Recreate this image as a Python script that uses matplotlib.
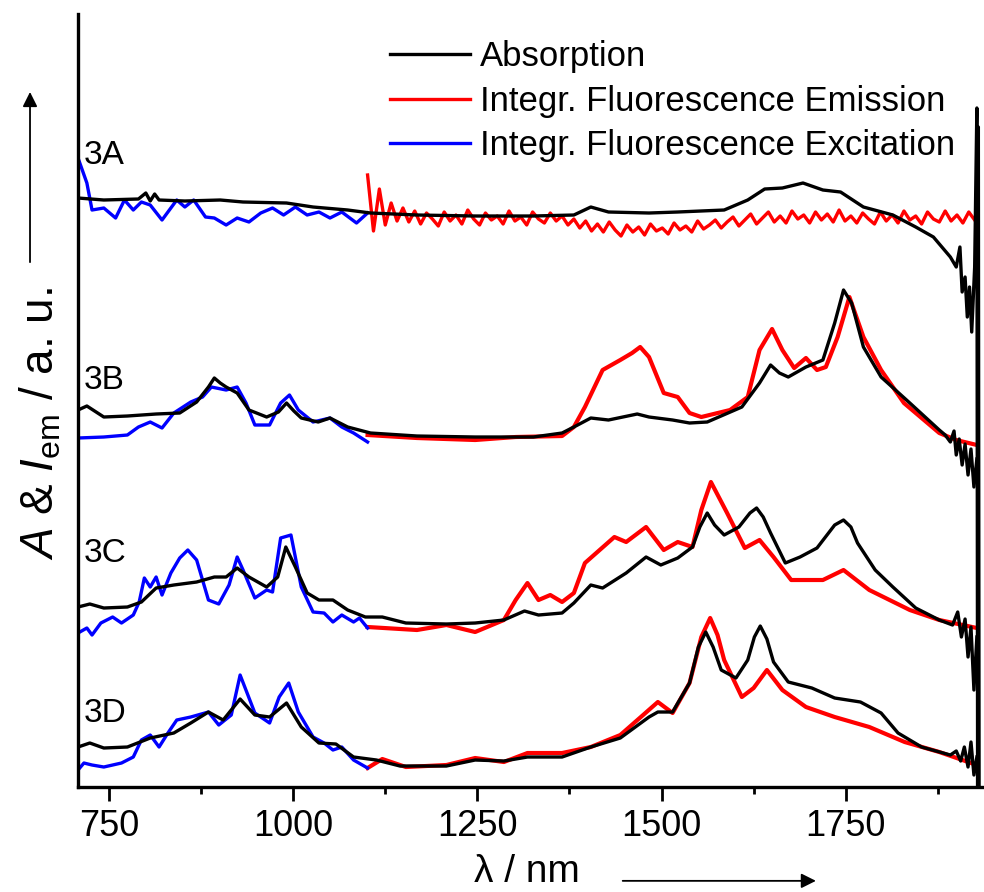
import matplotlib
matplotlib.use('Agg')
import matplotlib.pyplot as plt
from matplotlib.patches import FancyArrowPatch

plt.rcParams['font.family'] = ['Liberation Sans', 'DejaVu Sans']
plt.rcParams['mathtext.fontset'] = 'custom'
plt.rcParams['mathtext.rm'] = 'Liberation Sans'
plt.rcParams['mathtext.it'] = 'Liberation Sans:italic'

# ---- data (wavelength in nm, stacked intensity in a.u.) ----
# 3A
wl_abs_3a = [708, 743, 790, 800, 806, 812, 818, 853, 901, 932, 991, 1027, 1074, 1105, 1168, 1247,
             1326, 1381, 1404, 1428, 1483, 1522, 1585, 1617, 1640, 1664, 1692, 1719, 1743, 1774,
             1814, 1845, 1869, 1892, 1900, 1905, 1908, 1912, 1915, 1918, 1921, 1925, 1928, 1929,
             1930, 1931]
a_3a = [589, 587, 588, 594, 586, 593, 587, 586, 587, 585, 584, 580, 577, 574, 572, 571,
        571, 572, 580, 575, 574, 575, 577, 587, 598, 599, 604, 597, 595, 580,
        572, 560, 550, 530, 520, 540, 495, 510, 470, 500, 455, 520, 679, 0,
        660, 2]
wl_em_3a = list(range(1101, 1930, 8))
e_3a = [612, 556, 598, 562, 584, 566, 579, 565, 576, 563,
        574, 568, 561, 575, 566, 572, 563, 577, 568, 562,
        574, 567, 571, 563, 576, 566, 570, 562, 575, 568,
        564, 574, 566, 571, 562, 568, 559, 566, 556, 563,
        555, 565, 557, 551, 562, 555, 560, 552, 563, 556,
        559, 553, 564, 557, 561, 555, 566, 558, 562, 567,
        559, 565, 570, 561, 567, 573, 563, 569, 575, 565,
        571, 564, 576, 568, 572, 564, 575, 567, 573, 565,
        577, 566, 571, 564, 574, 568, 563, 575, 566, 572,
        564, 576, 567, 571, 563, 575, 568, 565, 576, 566,
        572, 564, 575, 567]
wl_ex_3a = [708, 720, 727, 743, 759, 771, 783, 794, 806, 822, 842, 853, 865, 881, 893, 909, 924,
            940, 956, 972, 987, 1003, 1019, 1035, 1050, 1066, 1086, 1101]
x_3a = [629, 604, 577, 579, 569, 587, 577, 585, 582, 567, 587, 580, 587, 570, 569, 562, 569,
        565, 574, 579, 572, 580, 572, 575, 569, 575, 564, 574]

# 3B
wl_abs_3b = [708, 720, 743, 775, 814, 846, 869, 885, 893, 901, 909, 924, 940, 964, 980, 991,
             1001, 1011, 1034, 1050, 1074, 1105, 1168, 1247, 1326, 1365, 1381, 1404, 1428, 1467,
             1483, 1515, 1538, 1562, 1609, 1633, 1648, 1660, 1672, 1696, 1719, 1735, 1747, 1758,
             1774, 1798, 1837, 1877, 1885, 1892, 1897, 1900, 1904, 1908, 1912, 1916, 1920, 1924,
             1928]
a_3b = [377, 381, 370, 371, 373, 374, 385, 400, 409, 404, 400, 394, 377, 370, 375, 384,
        376, 369, 365, 369, 360, 354, 351, 350, 350, 354, 360, 369, 367, 373,
        370, 367, 364, 365, 380, 404, 422, 414, 410, 420, 427, 464, 497, 484,
        440, 410, 384, 357, 352, 345, 356, 332, 348, 322, 343, 312, 338, 300,
        328]
wl_em_3b = [1101, 1168, 1247, 1302, 1365, 1381, 1396, 1420, 1444, 1460, 1471, 1483, 1503, 1522,
            1538, 1554, 1593, 1617, 1633, 1650, 1664, 1680, 1696, 1711, 1723, 1739, 1755, 1774,
            1798, 1829, 1877, 1900, 1928]
e_3b = [352, 349, 347, 350, 351, 360, 380, 417, 427, 434, 440, 430, 394, 390,
        374, 370, 377, 390, 437, 458, 437, 419, 429, 417, 420, 450, 490, 450,
        417, 384, 354, 347, 342]
wl_ex_3b = [708, 743, 775, 790, 806, 822, 838, 861, 877, 889, 909, 924, 936, 948, 968, 983, 995,
            1007, 1027, 1050, 1066, 1082, 1101]
x_3b = [349, 350, 352, 360, 365, 359, 374, 385, 390, 400, 397, 400, 384, 362, 362, 384, 392,
        377, 365, 369, 360, 354, 345]

# 3C
wl_abs_3c = [708, 724, 743, 775, 794, 814, 838, 869, 893, 909, 924, 940, 964, 979, 990, 1003,
             1019, 1035, 1054, 1074, 1098, 1121, 1153, 1208, 1247, 1286, 1314, 1333, 1365, 1381,
             1404, 1420, 1452, 1479, 1499, 1522, 1542, 1552, 1562, 1572, 1585, 1605, 1620, 1629,
             1638, 1648, 1668, 1688, 1711, 1735, 1747, 1757, 1766, 1790, 1814, 1845, 1877, 1895,
             1902, 1907, 1912, 1916, 1920, 1924, 1928]
a_3c = [180, 183, 179, 180, 185, 199, 202, 205, 210, 210, 219, 210, 200, 210, 240, 220,
        194, 187, 187, 177, 170, 170, 164, 163, 164, 167, 176, 172, 174, 184,
        202, 199, 214, 230, 222, 229, 240, 260, 274, 262, 252, 260, 274, 279,
        270, 254, 224, 230, 239, 262, 267, 260, 244, 217, 200, 179, 167, 162,
        175, 150, 168, 130, 160, 97, 150]
wl_em_3c = [1101, 1168, 1208, 1247, 1286, 1302, 1318, 1333, 1349, 1365, 1381, 1396, 1436, 1452,
            1479, 1503, 1522, 1542, 1554, 1567, 1589, 1613, 1633, 1652, 1676, 1719, 1747, 1782,
            1837, 1877, 1928]
e_3c = [160, 157, 162, 155, 167, 187, 204, 187, 192, 185, 194, 224, 250, 245,
        260, 237, 245, 240, 277, 305, 274, 239, 247, 230, 207, 207, 217, 197,
        177, 167, 159]
wl_ex_3c = [708, 720, 727, 739, 755, 767, 783, 791, 798, 806, 814, 822, 834, 846, 857, 869, 885,
            899, 913, 924, 932, 948, 964, 972, 983, 997, 1011, 1027, 1042, 1054, 1066, 1082,
            1090, 1101]
x_3c = [154, 159, 152, 164, 170, 164, 172, 185, 209, 200, 210, 192, 214, 229, 237, 227, 187,
        183, 202, 230, 217, 189, 197, 195, 249, 252, 200, 175, 174, 165, 172, 165,
        169, 159]

# 3D
wl_abs_3d = [708, 724, 743, 775, 806, 838, 861, 885, 905, 928, 948, 968, 991, 1011, 1035, 1058,
             1082, 1113, 1145, 1208, 1247, 1286, 1318, 1365, 1404, 1444, 1483, 1495, 1515, 1538,
             1550, 1560, 1570, 1581, 1601, 1617, 1626, 1634, 1643, 1652, 1672, 1704, 1735, 1770,
             1798, 1821, 1853, 1892, 1900, 1906, 1911, 1916, 1920, 1924, 1928]
a_3d = [40, 44, 39, 40, 49, 54, 64, 75, 67, 88, 72, 70, 84, 60, 44, 43,
        30, 27, 21, 21, 27, 26, 30, 30, 40, 49, 70, 75, 75, 104,
        140, 155, 140, 117, 109, 127, 150, 161, 148, 125, 105, 99, 89, 85,
        74, 54, 40, 32, 36, 26, 40, 20, 45, 12, 30]
wl_em_3d = [1101, 1121, 1153, 1208, 1247, 1286, 1318, 1365, 1404, 1444, 1475, 1495, 1515, 1538,
            1554, 1566, 1576, 1585, 1609, 1625, 1643, 1664, 1696, 1735, 1782, 1830, 1877, 1928]
e_3d = [19, 28, 20, 22, 29, 25, 34, 34, 40, 52, 72, 85, 74, 104,
        150, 169, 152, 127, 90, 99, 117, 97, 80, 70, 60, 45, 35, 22]
wl_ex_3d = [708, 716, 727, 743, 767, 783, 794, 806, 818, 830, 842, 861, 885, 899, 916, 928, 948,
            968, 981, 994, 1007, 1027, 1042, 1054, 1066, 1082, 1101]
x_3d = [17, 24, 22, 20, 24, 30, 47, 52, 40, 54, 67, 70, 75, 62, 72, 112, 74,
        64, 90, 104, 75, 50, 44, 37, 40, 27, 19]

samples = ['3A', '3B', '3C', '3D']
label_y = [632, 407, 234, 74]

fig = plt.figure(figsize=(9.84, 8.92), dpi=100)
ax = fig.add_axes([0.0793, 0.1177, 0.9187, 0.8666])

lw = 2.4
ax.plot(wl_abs_3a, a_3a, color='black', lw=lw, label='Absorption', zorder=3)
ax.plot(wl_em_3a, e_3a, color='red', lw=lw, label='Integr. Fluorescence Emission')
ax.plot(wl_ex_3a, x_3a, color='blue', lw=lw, label='Integr. Fluorescence Excitation')
for wa, a, we, e, wx, x in [(wl_abs_3b, a_3b, wl_em_3b, e_3b, wl_ex_3b, x_3b),
                            (wl_abs_3c, a_3c, wl_em_3c, e_3c, wl_ex_3c, x_3c),
                            (wl_abs_3d, a_3d, wl_em_3d, e_3d, wl_ex_3d, x_3d)]:
    ax.plot(wa, a, color='black', lw=lw, zorder=3)
    ax.plot(we, e, color='red', lw=lw + 0.6)
    ax.plot(wx, x, color='blue', lw=lw)

for s, yy in zip(samples, label_y):
    ax.text(716, yy, s, fontsize=24, va='center', ha='left')

ax.set_xlim(708, 1935)
ax.set_ylim(0, 773)
ax.set_xticks([750, 1000, 1250, 1500, 1750])
ax.set_xticks([875, 1125, 1375, 1625, 1875], minor=True)
ax.set_yticks([])
ax.tick_params(axis='x', which='major', length=10, width=2, labelsize=26, pad=6)
ax.tick_params(axis='x', which='minor', length=5, width=2)
for side in ['top', 'right']:
    ax.spines[side].set_visible(False)
for side in ['left', 'bottom']:
    ax.spines[side].set_linewidth(2.4)

ax.legend(loc='upper left', bbox_to_anchor=(0.318, 0.998), frameon=False, fontsize=25,
          handlelength=2.3, handletextpad=0.3, labelspacing=0.34, borderpad=0.2)

# axis labels with arrows
fig.text(0.535, 0.002, '\u03bb / nm', fontsize=28, ha='center', va='bottom')
fig.add_artist(FancyArrowPatch((0.630, 0.0125), (0.832, 0.0125),
               transform=fig.transFigure, arrowstyle='-|>', mutation_scale=22,
               lw=1.3, color='black'))
fig.text(0.041, 0.525, r'$A$ & $I_{\rm em}$ / a. u.', fontsize=33, rotation=90,
         ha='center', va='center')
fig.add_artist(FancyArrowPatch((0.0305, 0.703), (0.0305, 0.90),
               transform=fig.transFigure, arrowstyle='-|>', mutation_scale=22,
               lw=1.3, color='black'))

fig.savefig('out.png', dpi=100)
